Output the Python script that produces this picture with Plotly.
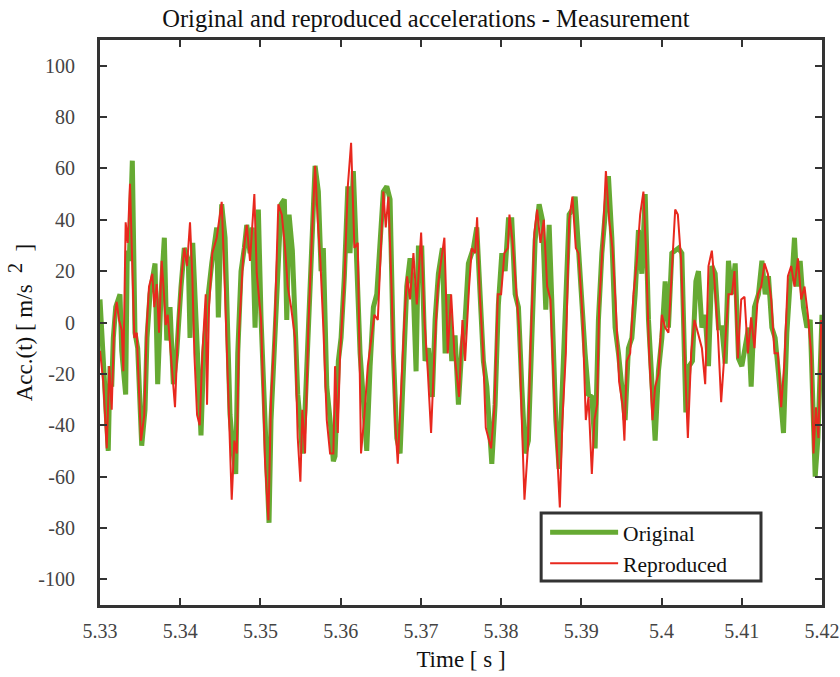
import plotly.graph_objects as go

# Measured acceleration (original) - time [s] and value [m/s^2]
t_orig = [5.33000, 5.33103, 5.33125, 5.33146, 5.33166, 5.33196, 5.33249, 5.33271, 5.33320, 5.33340,
          5.33365, 5.33403, 5.33436, 5.33470, 5.33520, 5.33561, 5.33586, 5.33623, 5.33686, 5.33719,
          5.33761, 5.33802, 5.33832, 5.33873, 5.33914, 5.33956, 5.34010, 5.34051, 5.34101, 5.34122,
          5.34156, 5.34193, 5.34259, 5.34293, 5.34322, 5.34350, 5.34393, 5.34455, 5.34475, 5.34517,
          5.34559, 5.34592, 5.34621, 5.34662, 5.34692, 5.34717, 5.34758, 5.34799, 5.34829, 5.34870,
          5.34899, 5.34933, 5.34974, 5.35008, 5.35049, 5.35079, 5.35107, 5.35132, 5.35173, 5.35216,
          5.35257, 5.35298, 5.35328, 5.35357, 5.35398, 5.35431, 5.35465, 5.35494, 5.35522, 5.35556,
          5.35590, 5.35640, 5.35681, 5.35722, 5.35756, 5.35784, 5.35827, 5.35868, 5.35909, 5.35930,
          5.35971, 5.36005, 5.36046, 5.36089, 5.36117, 5.36158, 5.36201, 5.36242, 5.36283, 5.36325,
          5.36367, 5.36408, 5.36450, 5.36491, 5.36532, 5.36575, 5.36616, 5.36657, 5.36700, 5.36741,
          5.36782, 5.36824, 5.36865, 5.36907, 5.36940, 5.36969, 5.37011, 5.37052, 5.37094, 5.37143,
          5.37177, 5.37218, 5.37268, 5.37302, 5.37343, 5.37385, 5.37426, 5.37468, 5.37510, 5.37551,
          5.37592, 5.37655, 5.37697, 5.37738, 5.37779, 5.37822, 5.37884, 5.37925, 5.37966, 5.38009,
          5.38050, 5.38091, 5.38133, 5.38175, 5.38216, 5.38258, 5.38299, 5.38340, 5.38383, 5.38424,
          5.38474, 5.38515, 5.38557, 5.38599, 5.38640, 5.38682, 5.38723, 5.38764, 5.38807, 5.38848,
          5.38889, 5.38923, 5.38964, 5.39006, 5.39047, 5.39089, 5.39131, 5.39172, 5.39213, 5.39256,
          5.39297, 5.39338, 5.39380, 5.39421, 5.39463, 5.39505, 5.39546, 5.39587, 5.39630, 5.39671,
          5.39712, 5.39754, 5.39796, 5.39837, 5.39879, 5.39920, 5.39961, 5.40004, 5.40045, 5.40086,
          5.40128, 5.40170, 5.40211, 5.40253, 5.40303, 5.40344, 5.40385, 5.40428, 5.40460, 5.40503,
          5.40544, 5.40585, 5.40627, 5.40668, 5.40710, 5.40752, 5.40793, 5.40834, 5.40877, 5.40918,
          5.40959, 5.41001, 5.41042, 5.41084, 5.41117, 5.41158, 5.41208, 5.41251, 5.41292, 5.41333,
          5.41375, 5.41416, 5.41458, 5.41491, 5.41520, 5.41562, 5.41603, 5.41632, 5.41657, 5.41687,
          5.41728, 5.41769, 5.41812, 5.41853, 5.41882, 5.41915, 5.41949, 5.41981, 5.42000]
acc_orig = [9, -50, -17, -25, -6, 6, 11, -11, -28, 28,
            24, 63, -4, -10, -48, -34, -6, 11, 23, -24,
            11, 33, -7, 6, -24, -12, 14, 29, 24, -6,
            31, 1, -44, -12, 2, 11, 23, 37, 2, 46,
            33, 3, -36, -51, -59, -12, 20, 29, 38, 27,
            37, -2, 44, 1, -36, -54, -78, -38, -12, 18,
            46, 48, 1, 42, 28, 1, -28, -38, -51, -34,
            -6, 33, 61, 51, 20, 29, -25, -38, -54, -52,
            -15, -6, 18, 53, 27, 59, 25, -12, -30, -50,
            -17, 6, 11, 33, 51, 53, 48, -12, -45, -51,
            -12, 14, 25, 11, -19, 29, 29, -15, -10, -29,
            1, 19, 29, -12, 11, -15, -5, -32, -10, 1,
            23, 29, 37, 6, -15, -25, -55, -32, 7, 27,
            20, 40, 40, 11, 6, -25, -51, -46, -6, 32,
            46, 40, 5, 38, 1, -38, -57, -28, 7, 42,
            44, 49, 29, 7, -12, -28, -29, -49, 1, 27,
            45, 57, 33, -2, -12, -25, -38, -10, -6, 11,
            36, 19, 50, 1, -25, -46, -19, -6, 16, -2,
            27, 28, 29, 27, -35, -17, -15, 16, 20, -2,
            3, -17, 22, 19, -2, -2, -16, 24, 11, 23,
            -14, -17, -10, -2, -25, 6, 11, 24, 11, 18,
            -2, -6, -20, -32, -43, -4, 16, 20, 33, 14,
            24, 6, -2, 1, -35, -60, -45, -12, 3]

# Reproduced acceleration - time [s] and value [m/s^2]
t_rep = [5.33000, 5.33041, 5.33084, 5.33116, 5.33146, 5.33178, 5.33208, 5.33237, 5.33271, 5.33291,
         5.33320, 5.33345, 5.33374, 5.33395, 5.33428, 5.33458, 5.33511, 5.33552, 5.33582, 5.33611,
         5.33652, 5.33677, 5.33707, 5.33736, 5.33769, 5.33798, 5.33819, 5.33844, 5.33894, 5.33935,
         5.33976, 5.34010, 5.34051, 5.34085, 5.34122, 5.34151, 5.34176, 5.34210, 5.34243, 5.34276,
         5.34318, 5.34334, 5.34359, 5.34400, 5.34455, 5.34517, 5.34559, 5.34609, 5.34642, 5.34675,
         5.34705, 5.34733, 5.34787, 5.34829, 5.34870, 5.34924, 5.34954, 5.35008, 5.35057, 5.35099,
         5.35132, 5.35173, 5.35223, 5.35266, 5.35307, 5.35340, 5.35382, 5.35431, 5.35465, 5.35498,
         5.35522, 5.35556, 5.35597, 5.35640, 5.35681, 5.35714, 5.35747, 5.35784, 5.35827, 5.35868,
         5.35909, 5.35930, 5.35964, 5.35993, 5.36046, 5.36089, 5.36130, 5.36171, 5.36213, 5.36254,
         5.36296, 5.36338, 5.36379, 5.36420, 5.36463, 5.36504, 5.36532, 5.36562, 5.36595, 5.36637,
         5.36678, 5.36712, 5.36753, 5.36794, 5.36828, 5.36865, 5.36907, 5.36949, 5.37003, 5.37044,
         5.37086, 5.37127, 5.37168, 5.37211, 5.37252, 5.37293, 5.37335, 5.37377, 5.37418, 5.37476,
         5.37518, 5.37551, 5.37601, 5.37635, 5.37676, 5.37701, 5.37734, 5.37776, 5.37809, 5.37842,
         5.37875, 5.37917, 5.37959, 5.38000, 5.38041, 5.38084, 5.38104, 5.38141, 5.38183, 5.38224,
         5.38258, 5.38291, 5.38333, 5.38365, 5.38415, 5.38449, 5.38490, 5.38532, 5.38574, 5.38615,
         5.38657, 5.38698, 5.38732, 5.38764, 5.38807, 5.38848, 5.38889, 5.38931, 5.38964, 5.39014,
         5.39056, 5.39089, 5.39131, 5.39163, 5.39197, 5.39222, 5.39263, 5.39306, 5.39347, 5.39388,
         5.39430, 5.39471, 5.39513, 5.39537, 5.39567, 5.39609, 5.39650, 5.39692, 5.39733, 5.39774,
         5.39804, 5.39845, 5.39887, 5.39920, 5.39961, 5.40004, 5.40045, 5.40086, 5.40128, 5.40170,
         5.40203, 5.40244, 5.40286, 5.40328, 5.40369, 5.40410, 5.40453, 5.40503, 5.40544, 5.40585,
         5.40627, 5.40660, 5.40702, 5.40743, 5.40784, 5.40834, 5.40877, 5.40909, 5.40951, 5.40993,
         5.41034, 5.41076, 5.41117, 5.41158, 5.41201, 5.41242, 5.41283, 5.41325, 5.41367, 5.41408,
         5.41450, 5.41491, 5.41532, 5.41575, 5.41616, 5.41657, 5.41700, 5.41741, 5.41782, 5.41824,
         5.41865, 5.41894, 5.41924, 5.41956, 5.41990]
acc_rep = [-11, -23, -49, -17, -34, 1, 8, 1, -3, -19,
           39, 31, 54, 33, -6, -4, -46, -36, -2, 14,
           19, 6, 15, -4, 24, 11, -1, 3, -15, -33,
           1, 16, 29, 22, 39, 18, -12, -36, -40, -12,
           11, -32, 6, 27, 33, 47, 11, -38, -69, -46,
           -51, -4, 27, 38, 24, 50, 19, 1, -54, -77,
           -30, -6, 46, 42, 29, 14, 6, -6, -45, -62,
           -34, -51, -2, 32, 61, 40, 24, -2, -38, -51,
           -51, -17, -43, -12, 16, 53, 70, 29, 31, -51,
           -36, -17, -6, 3, 1, 35, 51, 37, 49, 11,
           -38, -55, -25, 1, 18, 9, 27, 7, 35, 1,
           -19, -43, -12, 14, 24, 33, -12, 11, -12, -29,
           1, -15, 14, 29, 27, 41, 11, -12, -41, -45,
           -49, -33, 11, 11, 27, 29, 42, 32, 16, -2,
           -38, -69, -49, -12, 35, 44, 31, 40, 14, 9,
           -25, -49, -72, -38, -12, 40, 49, 29, 27, 3,
           -38, -29, -59, -38, -32, 6, 29, 59, 40, 29,
           6, -23, -32, -46, -15, -12, 11, 24, 42, 51,
           29, -12, -38, -25, -20, 3, -2, -4, 23, 44,
           42, 24, -12, -45, -12, 1, -4, -10, -24, 22,
           28, 16, -4, -31, -12, 11, 11, 20, -14, 9,
           10, -12, 2, -10, 11, 14, 23, 19, 9, -12,
           -12, -33, -15, 18, 22, 14, 25, 9, 14, 3,
           -12, -51, -33, -45, 1]

x_ticks = [5.33, 5.34, 5.35, 5.36, 5.37, 5.38, 5.39, 5.40, 5.41, 5.42]
x_tick_text = ["5.33", "5.34", "5.35", "5.36", "5.37", "5.38", "5.39", "5.4", "5.41", "5.42"]
y_ticks = [-100, -80, -60, -40, -20, 0, 20, 40, 60, 80, 100]
y_tick_text = ["-100", "-80", "-60", "-40", "-20", "0", "20", "40", "60", "80", "100"]

SERIF = "Liberation Serif"
FRAME = "#333333"

fig = go.Figure()
fig.add_trace(go.Scatter(x=t_orig, y=acc_orig, mode="lines", name="Original",
                         line=dict(color="#66AA33", width=5)))
fig.add_trace(go.Scatter(x=t_rep, y=acc_rep, mode="lines", name="Reproduced",
                         line=dict(color="#E8281E", width=2)))

axis_common = dict(
    showline=True, linewidth=3, linecolor=FRAME, mirror="ticks",
    ticks="inside", ticklen=7, tickwidth=2, tickcolor=FRAME,
    showgrid=False, zeroline=False, automargin=False,
    tickfont=dict(family=SERIF, size=20, color="#444444"),
)

# Legend frame: white box with a dark border, sized wider than the entries
fig.add_shape(type="rect", xref="paper", yref="paper",
              x0=0.611, x1=0.9155, y0=0.0425, y1=0.1628,
              fillcolor="white", line=dict(color=FRAME, width=3), layer="above")

fig.update_layout(
    width=840, height=677,
    margin=dict(l=100, r=18, t=40, b=72),
    paper_bgcolor="white", plot_bgcolor="white",
    font=dict(family=SERIF),
    title=dict(text="Original and reproduced accelerations - Measurement",
               x=0.507, xanchor="center", y=0.973, yanchor="middle",
               font=dict(family=SERIF, size=24.5, color="#111111")),
    xaxis=dict(range=[5.33, 5.42], tickvals=x_ticks, ticktext=x_tick_text,
               ticklabelstandoff=6,
               title=dict(text="Time [ s ]", standoff=10,
                          font=dict(family=SERIF, size=23, color="#111111")),
               **axis_common),
    yaxis=dict(range=[-110, 110], tickvals=y_ticks, ticktext=y_tick_text,
               ticklabelstandoff=18,
               title=dict(text="Acc.(t) [ m/s  <sup><span style='font-size:20px'>2</span></sup>  ]",
                          standoff=0,
                          font=dict(family=SERIF, size=23, color="#111111")),
               **axis_common),
    legend=dict(x=0.6165, y=0.165, xanchor="left", yanchor="top",
                bgcolor="rgba(0,0,0,0)", borderwidth=0,
                font=dict(family=SERIF, size=21.5, color="#111111"),
                itemwidth=68, tracegroupgap=0),
    showlegend=True,
)

fig.write_html("out.html")
